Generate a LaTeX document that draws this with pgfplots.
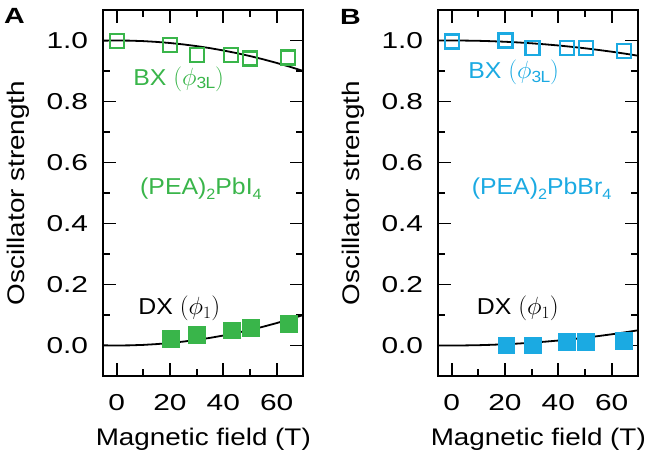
\documentclass[border=0pt]{standalone}
\usepackage{fontspec}
\setmainfont{Liberation Sans}[FakeStretch=1.08]
\newfontfamily\tickfont{Liberation Sans}[FakeStretch=1.3]
\newfontfamily\labfont{Liberation Sans}[FakeStretch=1.16]
\newfontfamily\letterfont{Liberation Sans}[FakeStretch=1.3]
\usepackage{pgfplots}
\pgfplotsset{compat=1.18}
\definecolor{pgreen}{RGB}{57,181,74}
\definecolor{pblue}{RGB}{27,170,226}

\pgfplotstableread{
x y
-5 0.9995
0 1.0
5 0.9995
10 0.9980
15 0.9954
20 0.9918
25 0.9872
30 0.9816
35 0.9750
40 0.9673
45 0.9587
50 0.9490
55 0.9383
60 0.9265
65 0.9138
70 0.9000
}\fitAbx
\pgfplotstableread{
x y
-5 0.0005
0 0.0
5 0.0005
10 0.0020
15 0.0046
20 0.0082
25 0.0128
30 0.0184
35 0.0250
40 0.0327
45 0.0413
50 0.0510
55 0.0617
60 0.0735
65 0.0862
70 0.1000
}\fitAdx
\pgfplotstableread{
x y
-5 0.9997
0 1.0
5 0.9997
10 0.9990
15 0.9977
20 0.9959
25 0.9936
30 0.9908
35 0.9875
40 0.9837
45 0.9793
50 0.9745
55 0.9691
60 0.9633
65 0.9569
70 0.9500
}\fitBbx
\pgfplotstableread{
x y
-5 0.0003
0 0.0
5 0.0003
10 0.0010
15 0.0023
20 0.0041
25 0.0064
30 0.0092
35 0.0125
40 0.0163
45 0.0207
50 0.0255
55 0.0309
60 0.0367
65 0.0431
70 0.0500
}\fitBdx

\pgfplotsset{
  panel/.style={
    anchor=south west,
    scale only axis, width=200pt, height=366pt,
    xmin=-5, xmax=70, ymin=-0.1, ymax=1.1,
    xtick={0,20,40,60}, minor xtick={10,30,50},
    ytick={0,0.2,0.4,0.6,0.8,1.0}, minor ytick={0.1,0.3,0.5,0.7,0.9},
    tick pos=both, xticklabel pos=lower, yticklabel pos=left,
    tick align=inside,
    major tick length=13pt, minor tick length=7pt,
    axis line style={line width=1.9pt},
    tick style={black, line width=1.9pt},
    /pgf/number format/assume math mode=true,
    yticklabel style={/pgf/number format/fixed, /pgf/number format/fixed zerofill, /pgf/number format/precision=1},
    tick label style={font=\tickfont\fontsize{23}{23}\selectfont},
    xticklabel style={anchor=base, inner sep=0pt, yshift=-34pt},
    yticklabel style={anchor=east, inner sep=0pt, xshift=-15pt},
    xlabel={Magnetic field (T)},
    ylabel={Oscillator strength},
    xlabel style={at={(axis description cs:0.5,0)}, anchor=base, yshift=-69pt, inner sep=0pt, font=\labfont\fontsize{24}{24}\selectfont},
    ylabel style={at={(axis description cs:-0.4275,0.5)}, anchor=center, inner sep=0pt, font=\labfont\fontsize{24}{24}\selectfont},
    clip=true,
  },
}
\tikzset{ann/.style={anchor=base west, inner sep=0pt, font=\fontsize{23}{23}\selectfont}}

\newcommand{\sub}[1]{\raisebox{-5pt}{\fontsize{15}{15}\selectfont #1}}

\begin{document}
\begin{tikzpicture}
\useasboundingbox (0,0) rectangle (649pt,456pt);

\begin{axis}[panel, at={(103.3pt,80pt)}]
\addplot[only marks, mark=square, mark size=7pt, color=pgreen, line width=2.2pt] coordinates {
(0,0.998) (20,0.985) (30,0.953) (43,0.953) (50,0.941) (64.3,0.944)};
\addplot[only marks, mark=square*, mark size=8.3pt, color=pgreen, mark options={line width=0.1pt}] coordinates {
(20.2,0.022) (30,0.036) (43,0.051) (50.3,0.058) (64.5,0.071)};
\addplot[black, line width=1.8pt, no marks] table[x=x,y=y] {\fitAbx};
\addplot[black, line width=1.8pt, no marks] table[x=x,y=y] {\fitAdx};
\node[ann, text=pgreen] at (axis cs:6.2,0.854) {BX $(\phi_{\mathrm{3L}})$};
\node[ann, text=pgreen] at (axis cs:8.75,0.495) {(PEA)\sub{2}PbI\sub{4}};
\node[ann, text=black] at (axis cs:8.1,0.102) {DX $(\phi_{1})$};
\end{axis}

\begin{axis}[panel, at={(438.3pt,80pt)}]
\addplot[only marks, mark=square, mark size=7pt, color=pblue, line width=2.2pt] coordinates {
(0,0.997) (20.2,1.0) (30.3,0.976) (43.4,0.976) (50.5,0.976) (64.7,0.965)};
\addplot[only marks, mark=square*, mark size=8.3pt, color=pblue, mark options={line width=0.1pt}] coordinates {
(20.4,0.002) (30.3,0.002) (43.2,0.012) (50.3,0.012) (64.5,0.017)};
\addplot[black, line width=1.8pt, no marks] table[x=x,y=y] {\fitBbx};
\addplot[black, line width=1.8pt, no marks] table[x=x,y=y] {\fitBdx};
\node[ann, text=pblue] at (axis cs:6.2,0.876) {BX $(\phi_{\mathrm{3L}})$};
\node[ann, text=pblue] at (axis cs:7.5,0.495) {(PEA)\sub{2}PbBr\sub{4}};
\node[ann, text=black] at (axis cs:9.4,0.102) {DX $(\phi_{1})$};
\end{axis}

\node[anchor=base west, inner sep=0pt, font=\letterfont\bfseries\fontsize{22}{22}\selectfont] at (4pt,432pt) {A};
\node[anchor=base west, inner sep=0pt, font=\letterfont\bfseries\fontsize{22}{22}\selectfont] at (340pt,431pt) {B};
\end{tikzpicture}
\end{document}
